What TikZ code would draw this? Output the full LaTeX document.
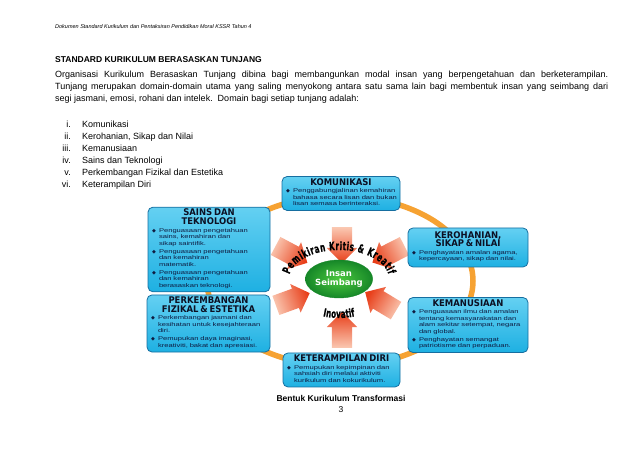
\documentclass[tikz,border=0pt]{standalone}
\usepackage{fontspec}
\setmainfont{Liberation Sans}
\newfontfamily\hdfont[FakeStretch=0.92]{DejaVu Sans}
\newfontfamily\smfont[FakeStretch=1.38]{Liberation Sans}
\newfontfamily\arcfont[FakeStretch=0.62,FakeBold=0.6]{DejaVu Sans}
\newfontfamily\symfont{DejaVu Sans}
\usetikzlibrary{shapes.arrows,shapes.geometric}

\definecolor{boxfill}{RGB}{30,176,226}
\definecolor{boxtop}{RGB}{100,208,242}
\definecolor{boxline}{RGB}{22,110,160}
\definecolor{ringcol}{RGB}{246,162,50}
\definecolor{arrowhead}{RGB}{232,62,25}
\definecolor{arrowtail}{RGB}{250,200,178}
\definecolor{ballin}{RGB}{75,200,62}
\definecolor{ballout}{RGB}{22,135,40}
\definecolor{headtxt}{RGB}{12,16,35}
\definecolor{bodytxt}{RGB}{15,28,65}

\newcommand{\bul}{{\symfont\fontsize{5}{5}\selectfont ◆}}
\newcommand{\itm}[1]{\par\noindent\makebox[7pt][l]{\bul}\begin{tabular}[t]{@{}l@{}}#1\end{tabular}\par\vspace{0.6pt}}
\newcommand{\hd}[1]{{\centering\hdfont\bfseries\fontsize{9.2}{8.6}\selectfont\color{headtxt}#1\par}\vspace{1pt}}

\begin{document}
\begin{tikzpicture}[x=1pt,y=1pt,
  tunjang/.style 2 args={draw=boxline,line width=0.8pt,rounded corners=5pt,
    top color=boxtop,bottom color=boxfill,text width=#1,minimum height=#2,
    inner xsep=4pt,inner ysep=2pt,align=left,text=bodytxt,
    font=\smfont\fontsize{5.5}{6.5}\selectfont},
  inward/.style 2 args={single arrow,minimum height=36pt,inner xsep=0pt,inner ysep=10pt,
    single arrow head extend=5pt,single arrow head indent=0pt,
    top color=arrowtail,bottom color=arrowhead,shading angle=#2,rotate=#1},
  arcletter/.style={inner sep=0pt,anchor=base,font=\arcfont\bfseries\fontsize{11.5}{12}\selectfont},
  txt/.style={inner sep=0pt,font=\fontsize{9}{12}\selectfont}]
\useasboundingbox (0,0) rectangle (638,452);

% page text
\node[anchor=base west,inner sep=0pt,font=\fontsize{5.5}{6}\selectfont\itshape] (hdr) at (55,423)
  {Dokumen Standard Kurikulum dan Pentaksiran Pendidikan Moral KSSR Tahun 4};
\node[anchor=base west,inner sep=0pt,font=\bfseries\fontsize{8.5}{10}\selectfont] (ttl) at (55,389)
  {STANDARD KURIKULUM BERASASKAN TUNJANG};
\node[txt,anchor=north west,text width=553pt,align=justify] (para) at (55,381)
  {Organisasi Kurikulum Berasaskan Tunjang dibina bagi membangunkan modal insan yang berpengetahuan dan berketerampilan.\linebreak
   Tunjang merupakan domain-domain utama yang saling menyokong antara satu sama lain bagi membentuk insan yang seimbang dari\linebreak
   segi jasmani, emosi, rohani dan intelek.\ \ Domain bagi setiap tunjang adalah:};
\foreach \num/\txt [count=\i] in {i./Komunikasi,ii./{Kerohanian, Sikap dan Nilai},iii./Kemanusiaan,
    iv./Sains dan Teknologi,v./Perkembangan Fizikal dan Estetika,vi./Keterampilan Diri}{
  \node[txt,anchor=base east] (num\i) at (71,{336-12*\i}) {\num};
  \node[txt,anchor=base west] (item\i) at (82,{336-12*\i}) {\txt};
}

% ring and arrows
\draw[ringcol,line width=5.5pt] (340,171) ellipse[x radius=133pt,y radius=85pt];
\node[inward={-90}{0}] (aKom) at (342,212) {};
\node[inward={90}{180}] (aKeter) at (342,117) {};
\node[inward={-28}{62}] (aSains) at (287,200) {};
\node[inward={207}{297}] (aKero) at (393,200) {};
\node[inward={20}{110}] (aPerk) at (288,151) {};
\node[inward={149}{239}] (aKeman) at (385,148) {};

% tunjang boxes
\node[tunjang={110pt}{33pt}] (kom) at (341,258.5) {\hd{KOMUNIKASI}
  \itm{Penggabungjalinan kemahiran\\bahasa secara lisan dan bukan\\lisan semasa berinteraksi.}};
\node[tunjang={114pt}{81pt}] (sains) at (209,202.5) {\hd{SAINS DAN\par TEKNOLOGI}
  \itm{Penguasaan pengetahuan\\sains, kemahiran dan\\sikap saintifik.}
  \itm{Penguasaan pengetahuan\\dan kemahiran\\matematik.}
  \itm{Penguasaan pengetahuan\\dan kemahiran\\berasaskan teknologi.}};
\node[tunjang={112pt}{39pt}] (kero) at (468,204.5) {\hd{KEROHANIAN,\par SIKAP \& NILAI}
  \itm{Penghayatan amalan agama,\\kepercayaan, sikap dan nilai.}};
\node[tunjang={115pt}{53pt}] (perk) at (208.5,128.5) {\hd{PERKEMBANGAN\par FIZIKAL \& ESTETIKA}
  \itm{Perkembangan jasmani dan\\kesihatan untuk kesejahteraan\\diri.}
  \itm{Pemupukan daya imaginasi,\\kreativiti, bakat dan apresiasi.}};
\node[tunjang={112pt}{50pt}] (keman) at (468,127) {\hd{KEMANUSIAAN}
  \itm{Penguasaan ilmu dan amalan\\tentang kemasyarakatan dan\\alam sekitar setempat, negara\\dan global.}
  \itm{Penghayatan semangat\\patriotisme dan perpaduan.}};
\node[tunjang={109pt}{34pt}] (keter) at (341.5,82) {\hd{KETERAMPILAN DIRI}
  \itm{Pemupukan kepimpinan dan\\sahsiah diri melalui aktiviti\\kurikulum dan kokurikulum.}};

% centre
\node[ellipse,minimum width=62pt,minimum height=38pt,inner sep=0pt,draw=ballout,
  inner color=ballin,outer color=ballout,text=white,align=center,
  font=\symfont\bfseries\fontsize{8.5}{9.5}\selectfont] (mid) at (339,173) {Insan\\Seimbang};
\begin{scope}[shift={(mid.center)}]
  \foreach \ch/\t [count=\i] in {P/166.0,e/156.1,m/144.8,i/136.4,k/130.8,i/125.4,r/120.9,a/115.1,n/108.3,
      K/97.8,r/91.9,i/87.9,t/84.1,i/80.2,s/75.8,\&/65.1,
      K/53.0,r/46.2,e/39.2,a/31.0,t/23.1,i/17.4,f/11.7}
    \node[arcletter,rotate={atan2(-29*cos(\t),50*sin(\t))}] (pk\i) at (\t:50pt and 29pt) {\ch};
  \foreach \ch/\t [count=\i] in {I/254.7,n/258.9,o/264.3,v/269.4,a/274.5,t/278.9,i/282.0,f/285.0}
    \node[arcletter,rotate={atan2(39*cos(\t),-56*sin(\t))}] (in\i) at (\t:56pt and 39pt) {\ch};
\end{scope}

% caption
\node[inner sep=0pt,font=\bfseries\fontsize{8.5}{10}\selectfont] (cap) at (341,54) {Bentuk Kurikulum Transformasi};
\node[inner sep=0pt,font=\fontsize{8.5}{10}\selectfont] (pg) at (341,42) {3};
\end{tikzpicture}
\end{document}
